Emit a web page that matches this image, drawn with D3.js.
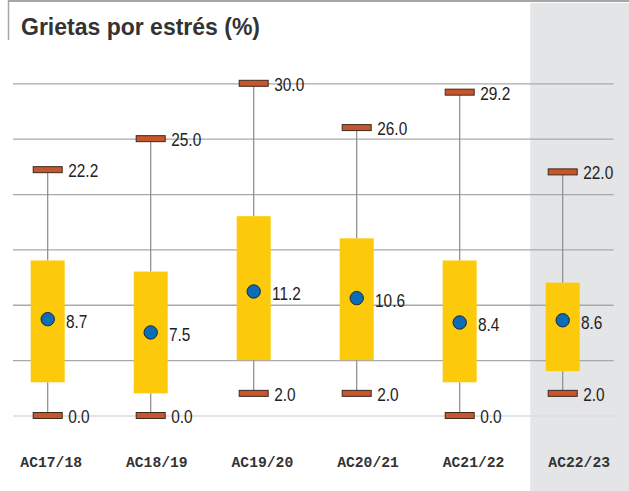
<!DOCTYPE html>
<html>
<head>
<meta charset="utf-8">
<script src="https://cdn.jsdelivr.net/npm/d3@7"></script>
<style>
  html, body { margin: 0; padding: 0; background: #ffffff; }
  svg { display: block; }
</style>
</head>
<body>
<div id="chart"></div>
<script>
// Grietas por estrés: distribución por año académico
const categories = ["AC17/18", "AC18/19", "AC19/20", "AC20/21", "AC21/22", "AC22/23"];
const minValues  = [0.0, 0.0, 2.0, 2.0, 0.0, 2.0];
const q1Values   = [3.0, 2.0, 5.0, 5.0, 3.0, 4.0];
const q3Values   = [14.0, 13.0, 18.0, 16.0, 14.0, 12.0];
const maxValues  = [22.2, 25.0, 30.0, 26.0, 29.2, 22.0];
const meanValues = [8.7, 7.5, 11.2, 10.6, 8.4, 8.6];
const yTicks     = [0, 5, 10, 15, 20, 25, 30];
const highlighted = "AC22/23";

const W = 629, H = 491;
const svg = d3.select("#chart").append("svg").attr("width", W).attr("height", H);

const y = d3.scaleLinear().domain([0, 30]).range([415.5, 83.3]);
// boxes and category labels sit on slightly different grids
const xBox = d3.scalePoint().domain(categories).range([47.7, 562.7]);
const xLab = d3.scaleBand().domain(categories).range([-1.6, 632]);

const fmt = d3.format(".1f");
const data = categories.map((c, i) => ({
  cat: c, min: minValues[i], q1: q1Values[i], q3: q3Values[i], max: maxValues[i], mean: meanValues[i]
}));

// highlighted column background
const hx = xLab(highlighted) + xLab.bandwidth() / 2;
svg.append("rect")
  .attr("x", hx - 49).attr("y", 3)
  .attr("width", W - (hx - 49)).attr("height", H - 3)
  .attr("fill", "#e4e5e7");

// header rules
svg.append("line").attr("x1", 8).attr("x2", W).attr("y1", 1).attr("y2", 1)
  .attr("stroke", "#a6a6a6").attr("stroke-width", 2);
svg.append("line").attr("x1", 8.5).attr("x2", 8.5).attr("y1", 0).attr("y2", 40)
  .attr("stroke", "#a6a6a6").attr("stroke-width", 1.5);

svg.append("text")
  .attr("x", 21).attr("y", 34.5)
  .attr("font-family", "Liberation Sans, Arial, sans-serif")
  .attr("font-weight", "bold")
  .attr("font-size", 23)
  .attr("fill", "#333333")
  .text("Grietas por estrés (%)");

// horizontal grid
const gridLeft = 13, gridRight = 613.7;
const yAxis = d3.axisLeft(y).tickValues(yTicks).tickSize(-(gridRight - gridLeft)).tickFormat("");
const gAxis = svg.append("g").attr("transform", `translate(${gridLeft},0)`).call(yAxis);
gAxis.select(".domain").remove();
gAxis.selectAll(".tick line")
  .attr("stroke", d => d === 0 ? "#dcdcdc" : "#a9a9a9")
  .attr("stroke-width", 1.3);

const g = svg.append("g");
const boxW = 34, capW = 29, capH = 6;

// condensed value labels
function valueLabel(sel, xf, yf, tf) {
  sel.attr("transform", d => `translate(${xf(d)},${yf(d)}) scale(0.82,1)`)
    .attr("font-family", "Liberation Sans, Arial, sans-serif")
    .attr("font-size", 18.8)
    .attr("fill", "#222222")
    .text(tf);
}

// whiskers
g.selectAll(".whisker-hi").data(data).join("line")
  .attr("x1", d => xBox(d.cat)).attr("x2", d => xBox(d.cat))
  .attr("y1", d => y(d.max)).attr("y2", d => y(d.q3))
  .attr("stroke", "#8a8a8a").attr("stroke-width", 1.2);
g.selectAll(".whisker-lo").data(data).join("line")
  .attr("x1", d => xBox(d.cat)).attr("x2", d => xBox(d.cat))
  .attr("y1", d => y(d.q1)).attr("y2", d => y(d.min))
  .attr("stroke", "#8a8a8a").attr("stroke-width", 1.2);

// boxes
g.selectAll(".box").data(data).join("rect")
  .attr("x", d => xBox(d.cat) - boxW / 2)
  .attr("y", d => y(d.q3))
  .attr("width", boxW)
  .attr("height", d => y(d.q1) - y(d.q3))
  .attr("fill", "#fdca0b");

// caps
["max", "min"].forEach(k => {
  g.selectAll(".cap-" + k).data(data).join("rect")
    .attr("x", d => xBox(d.cat) - capW / 2)
    .attr("y", d => y(d[k]) - capH / 2)
    .attr("width", capW).attr("height", capH)
    .attr("fill", "#c9562a")
    .attr("stroke", "#3b2a22").attr("stroke-width", 1);
  g.selectAll(".cap-label-" + k).data(data).join("text")
    .call(valueLabel, d => xBox(d.cat) + 20.5, d => y(d[k]) + 7.4, d => fmt(d[k]));
});

// means
g.selectAll(".mean").data(data).join("circle")
  .attr("cx", d => xBox(d.cat)).attr("cy", d => y(d.mean))
  .attr("r", 6.7)
  .attr("fill", "#0b6cb8")
  .attr("stroke", "#1c2838").attr("stroke-width", 1);
g.selectAll(".mean-label").data(data).join("text")
  .call(valueLabel, d => xBox(d.cat) + 18.3, d => y(d.mean) + 9, d => fmt(d.mean));

// category labels
svg.selectAll(".cat").data(categories).join("text")
  .attr("x", d => xLab(d) + xLab.bandwidth() / 2)
  .attr("y", 467)
  .attr("text-anchor", "middle")
  .attr("font-family", "Liberation Mono, monospace")
  .attr("font-weight", "bold")
  .attr("font-size", 14.7)
  .attr("fill", "#333333")
  .text(d => d);
</script>
</body>
</html>
